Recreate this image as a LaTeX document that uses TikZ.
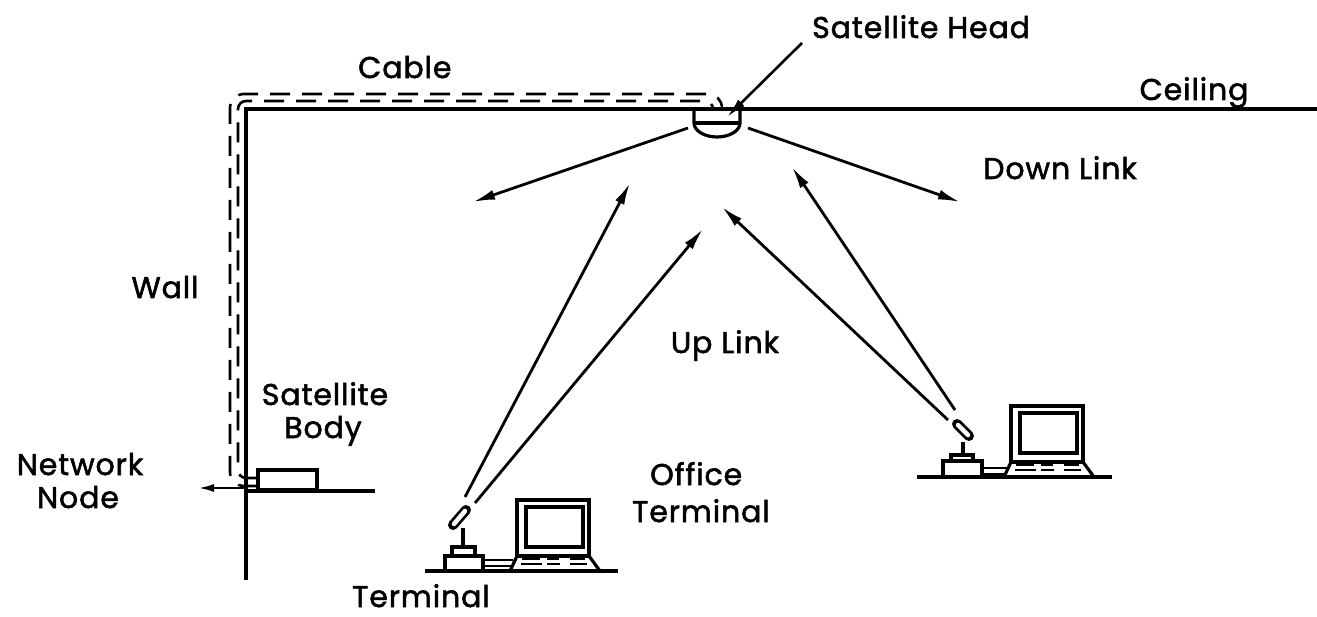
\documentclass[tikz,border=0pt]{standalone}
\usepackage{fontspec}
\setmainfont{Poppins}[FakeBold=1.8,LetterSpace=3]
\usetikzlibrary{arrows.meta}
\begin{document}
\begin{tikzpicture}[x=1pt,y=-1pt,
  ln/.style={line width=3.2pt},
  thin ln/.style={line width=2.2pt},
  beam/.style={line width=2.8pt,-{Latex[length=22pt,width=10pt]}},
  cable/.style={line width=2.6pt,dash pattern=on 20pt off 12pt},
  lbl/.style={font=\fontsize{30}{34}\selectfont,inner sep=0pt},
  laptop/.pic={
    \draw[ln,line join=round] (0,0) -- (7,-15) -- (79,-15) -- (90,0);
    \draw[ln] (7,-15) rectangle (79,-71);
    \draw[ln] (16,-24) rectangle (73,-64);
    \draw[thin ln] (12,-12) -- (30,-12) (37,-12) -- (49,-12) (60,-12) -- (75,-12);
    \draw[thin ln] (11,-7) -- (32,-7) (37,-7) -- (50,-7) (60,-7) -- (77,-7);
  },
  capsule/.style={line width=10pt,line cap=round},
  capsule hole/.style={white,line width=4.5pt,line cap=round}
]
\useasboundingbox (0,0) rectangle (1317,617);

% room: ceiling and wall
\coordinate (corner) at (246,109);
\draw[ln] (1317,109) -- (corner) -- (246,580);

% satellite head below the ceiling
\draw[ln,line join=round] (694,109) -- (694,123) arc[start angle=180,end angle=0,x radius=23,y radius=14] -- (740,109);
\draw[ln] (694,123) -- (740,123);
\coordinate (head) at (727,117);

% cable from satellite body up the wall and along the ceiling
\draw[cable,rounded corners=14pt] (258,486) -| (230,94) -| (722,109);
\draw[cable,rounded corners=8pt] (258,478) -| (238,101) -| (713,109);

% satellite body on its shelf
\draw[ln] (258,470) rectangle (317,490);
\draw[ln] (246,491) -- (375,491);
\coordinate (bodyout) at (246,488);
\coordinate (netnode) at (198,488);
\draw[line width=2.6pt,-{Latex[length=16pt,width=8pt]}] (bodyout) -- (netnode);

% down link beams
\coordinate (dl1s) at (688,128);
\coordinate (dl1e) at (473,202);
\coordinate (dl2s) at (748,128);
\coordinate (dl2e) at (960,202);
\draw[beam] (dl1s) -- (dl1e);
\draw[beam] (dl2s) -- (dl2e);

% left terminal
\draw[ln] (425,571) -- (618,571);
\draw[ln] (445,556) rectangle (483,571);
\draw[ln] (452,547) rectangle (475,556);
\draw[ln] (463,528) -- (463,547);
\draw[thin ln] (483,560) -- (513,560) (483,566) -- (511,566);
\draw[capsule] (453,525) -- (466,510);
\draw[capsule hole] (454,524) -- (465,511);
\pic at (510,571) {laptop};
\coordinate (lt1) at (465,497);
\coordinate (lt2) at (475,503);
\coordinate (ul1) at (630,183);
\coordinate (ul2) at (703,229);
\draw[beam] (lt1) -- (ul1);
\draw[beam] (lt2) -- (ul2);

% right terminal
\draw[ln] (917,477) -- (1112,477);
\draw[ln] (943,461) rectangle (982,477);
\draw[ln] (951,455) rectangle (973,461);
\draw[ln] (963,442) -- (963,455);
\draw[thin ln] (982,468) -- (1008,468) (982,474) -- (1007,474);
\draw[capsule] (957,424) -- (969,436);
\draw[capsule hole] (958,425) -- (968,435);
\pic at (1004,477) {laptop};
\coordinate (rt1) at (948,420);
\coordinate (rt2) at (955,410);
\coordinate (ul3) at (722,207);
\coordinate (ul4) at (792,167);
\draw[beam] (rt1) -- (ul3);
\draw[beam] (rt2) -- (ul4);

% head pointer
\coordinate (hdlbl) at (802,43);
\draw[line width=2.6pt,-{Latex[length=20pt,width=9pt]}] (hdlbl) -- (head);

% labels
\node[lbl,anchor=base west] (tHead) at (812,38) {Satellite Head};
\node[lbl,anchor=base west] (tCable) at (358,78) {Cable};
\node[lbl,anchor=base] (tCeil) at (1194,100) {Ceiling};
\node[lbl,anchor=base] (tDown) at (1060,179) {Down Link};
\node[lbl,anchor=base] (tWall) at (165,298) {Wall};
\node[lbl,anchor=base] (tUp) at (725,353) {Up Link};
\node[lbl,anchor=base] (tBody1) at (325,405) {Satellite};
\node[lbl,anchor=base] (tBody2) at (323,438) {Body};
\node[lbl,anchor=base] (tNet1) at (80,475) {Network};
\node[lbl,anchor=base] (tNet2) at (78,508) {Node};
\node[lbl,anchor=base west] (tOff1) at (650,485) {Office};
\node[lbl,anchor=base west] (tOff2) at (632,522) {Terminal};
\node[lbl,anchor=base west] (tTerm) at (352,607) {Terminal};
\end{tikzpicture}
\end{document}
